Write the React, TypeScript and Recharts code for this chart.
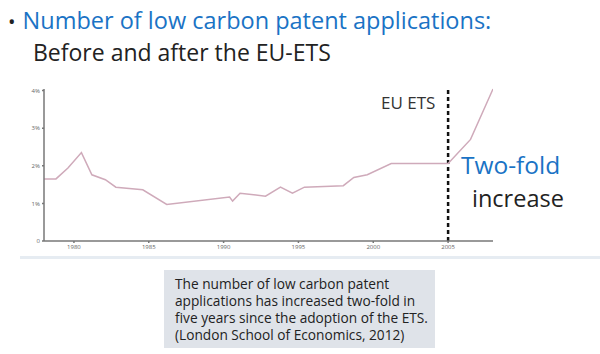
import { CartesianGrid, Line, LineChart, ReferenceLine, XAxis, YAxis } from "recharts";

// share of low carbon patent applications (%)
const years = [1978, 1978.8, 1979.6, 1980.5, 1981.2, 1982.1, 1982.8, 1984.6, 1986.2, 1990.4, 1990.6, 1991.1, 1992.8, 1993.8, 1994.6, 1995.4, 1998, 1998.7, 1999.6, 2001.2, 2005, 2006.5, 2008];
const shares = [1.65, 1.65, 1.94, 2.35, 1.76, 1.63, 1.43, 1.36, 0.97, 1.17, 1.06, 1.27, 1.19, 1.43, 1.27, 1.43, 1.47, 1.69, 1.76, 2.06, 2.06, 2.7, 4.04];
const yearTicks = [1980, 1985, 1990, 1995, 2000, 2005];
const shareTicks = [0, 1, 2, 3, 4];
const etsYear = 2005;

const data = years.map((year, i) => ({ year, share: shares[i] }));

const font = "'Open Sans', sans-serif";

export default function App() {
  return (
    <div style={{ position: "absolute", left: 0, top: 0, width: 600, height: 354, background: "#fff", overflow: "hidden", fontFamily: font }}>
      <div style={{ position: "absolute", left: 8, top: 4, fontSize: 23.5, color: "#1a73c5", whiteSpace: "nowrap" }}>
        <span style={{ color: "#222", fontSize: 20, marginRight: 7 }}>•</span>Number of low carbon patent applications:
      </div>
      <div style={{ position: "absolute", left: 33, top: 36, fontSize: 23, color: "#222", whiteSpace: "nowrap" }}>Before and after the EU-ETS</div>

      <div style={{ position: "absolute", left: 0, top: 0 }}>
        <LineChart width={600} height={354} data={data} margin={{ top: 89, right: 107, bottom: 101, left: 14 }}>
          <CartesianGrid stroke="none" />
          <XAxis dataKey="year" type="number" domain={[1978, 2008]} ticks={yearTicks} height={12} tick={{ fontSize: 6, fill: "#666" }} tickSize={2} stroke="#777" strokeWidth={1.5} allowDataOverflow />
          <YAxis type="number" domain={[0, 4]} ticks={shareTicks} width={30} tick={{ fontSize: 6, fill: "#666" }} tickSize={2} stroke="#777" strokeWidth={1.5} tickFormatter={(v: number) => (v === 0 ? "0" : `${v}%`)} />
          <ReferenceLine x={etsYear} stroke="#111" strokeWidth={2.5} strokeDasharray="4 3" />
          <Line dataKey="share" stroke="#cfaaba" strokeWidth={1.5} dot={false} isAnimationActive={false} />
        </LineChart>
      </div>

      <div style={{ position: "absolute", left: 381, top: 91, fontSize: 17, color: "#333" }}>EU ETS</div>
      <div style={{ position: "absolute", left: 461, top: 153, fontSize: 24.5, lineHeight: 1, color: "#1a73c5" }}>Two-fold</div>
      <div style={{ position: "absolute", left: 472, top: 187, fontSize: 23.5, lineHeight: 1, color: "#222" }}>increase</div>

      <div style={{ position: "absolute", left: 20, top: 256, width: 580, height: 3, background: "#e6ecf2" }} />
      <div style={{ position: "absolute", left: 164, top: 270, width: 271, height: 78, background: "#dfe3e9", boxSizing: "border-box", padding: "5px 0 0 11px", fontSize: 13.7, lineHeight: "17px", color: "#222" }}>
        The number of low carbon patent applications has increased two-fold in five years since the adoption of the ETS. (London School of Economics, 2012)
      </div>
    </div>
  );
}
